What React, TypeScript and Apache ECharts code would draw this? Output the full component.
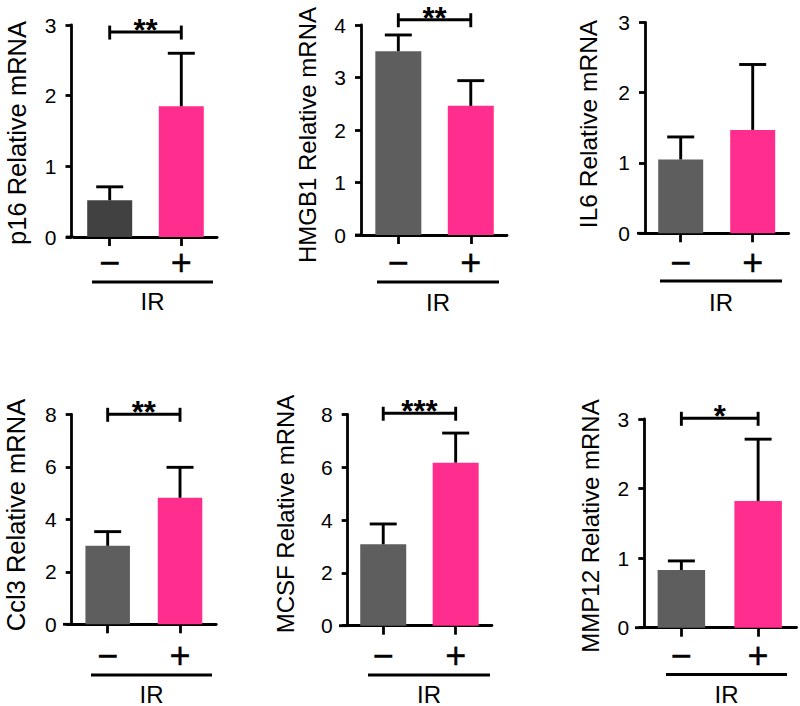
import React, { useEffect, useRef } from "react";
import * as echarts from "echarts";

// ---------- data ----------
const genes = ["p16", "HMGB1", "IL6", "Ccl3", "MCSF", "MMP12"];
const groups = ["−", "+"];
const groupLabel = "IR";
const ctrlMean = [0.52, 3.5, 1.05, 2.99, 3.08, 0.83];
const ctrlErr = [0.19, 0.31, 0.32, 0.54, 0.77, 0.13];
const irMean = [1.85, 2.46, 1.47, 4.82, 6.17, 1.82];
const irErr = [0.75, 0.48, 0.93, 1.16, 1.12, 0.89];
const yMax = [3, 4, 3, 8, 8, 3];
const yStep = [1, 1, 1, 2, 2, 1];
const stars = ["**", "**", "", "**", "***", "*"];
const bracketAt: (number | null)[] = [2.9, 4.1, null, 8.0, 8.04, 3.01];

// ---------- layout / style ----------
const FONT = "'Liberation Sans', Arial, Helvetica, sans-serif";
const PINK = "#ff2d8d";
const LW = 2.8;
const LABEL_SIZE = 36;

const panels = [
  { axisX: 71.5, left: 73.9, right: 217.1, xStart: 66, top: 25, bottom: 237, barW: 45, gray: "#414141", titleX: 17, titleY: 133, titleSize: 25.5, labelY: 262, irX0: 92, irX1: 213, irY: 282, irTextY: 301 },
  { axisX: 361, left: 362.1, right: 507, xStart: 355, top: 25, bottom: 235, barW: 46, gray: "#5e5e5e", titleX: 307, titleY: 135, titleSize: 24, labelY: 262, irX0: 377, irX1: 499, irY: 282, irTextY: 302 },
  { axisX: 645, left: 644.7, right: 788.7, xStart: 637, top: 22.3, bottom: 233.3, barW: 45, gray: "#5e5e5e", titleX: 588, titleY: 124, titleSize: 24.5, labelY: 262, irX0: 660, irX1: 782, irY: 281, irTextY: 302 },
  { axisX: 71.7, left: 71.5, right: 216.2, xStart: 63, top: 414.3, bottom: 624.3, barW: 44.5, gray: "#5e5e5e", titleX: 16, titleY: 515, titleSize: 25.5, labelY: 655.5, irX0: 91, irX1: 212, irY: 675, irTextY: 694 },
  { axisX: 347.7, left: 347, right: 491.9, xStart: 339, top: 414.3, bottom: 625.7, barW: 46, gray: "#5e5e5e", titleX: 285, titleY: 514, titleSize: 24, labelY: 655.5, irX0: 368, irX1: 490, irY: 675, irTextY: 694 },
  { axisX: 644.3, left: 643, right: 796.5, xStart: 635, top: 419, bottom: 627.7, barW: 47.5, gray: "#5e5e5e", titleX: 590, titleY: 526, titleSize: 24, labelY: 655.5, irX0: 666, irX1: 787, irY: 674.5, irTextY: 694 },
];

function buildOption() {
  const grid: any[] = [];
  const xAxis: any[] = [];
  const yAxis: any[] = [];
  const series: any[] = [];
  const graphic: any[] = [];
  const axisLineStyle = { color: "#000", width: LW };

  panels.forEach((p, i) => {
    grid.push({ left: p.left, top: p.top, width: p.right - p.left, height: p.bottom - p.top });
    xAxis.push({
      type: "category",
      gridIndex: i,
      data: groups,
      axisLine: { show: true, lineStyle: axisLineStyle },
      axisTick: { show: true, alignWithLabel: true, length: 9, lineStyle: axisLineStyle },
      axisLabel: {
        fontSize: LABEL_SIZE,
        color: "#000",
        fontFamily: FONT,
        textBorderColor: "#000",
        textBorderWidth: 0.35,
        margin: p.labelY - p.bottom - LABEL_SIZE / 2,
      },
      splitLine: { show: false },
    });
    yAxis.push({
      type: "value",
      gridIndex: i,
      min: 0,
      max: yMax[i],
      interval: yStep[i],
      offset: p.left - p.axisX,
      axisLine: { show: true, lineStyle: axisLineStyle },
      axisTick: { show: true, length: 6, lineStyle: axisLineStyle },
      axisLabel: { fontSize: 21, color: "#000", fontFamily: FONT, margin: 15 },
      splitLine: { show: false },
    });
    series.push({
      type: "bar",
      xAxisIndex: i,
      yAxisIndex: i,
      barWidth: p.barW,
      silent: true,
      data: [
        { value: ctrlMean[i], itemStyle: { color: p.gray } },
        { value: irMean[i], itemStyle: { color: PINK } },
      ],
    });
    series.push({
      type: "custom",
      xAxisIndex: i,
      yAxisIndex: i,
      silent: true,
      z: 3,
      encode: { x: 0, y: [1, 2] },
      data: [
        [0, ctrlMean[i], ctrlMean[i] + ctrlErr[i]],
        [1, irMean[i], irMean[i] + irErr[i]],
      ],
      renderItem: (params: any, api: any) => {
        const base = api.coord([api.value(0), api.value(1)]);
        const top = api.coord([api.value(0), api.value(2)]);
        const hw = 13.5;
        const st = { stroke: "#000", lineWidth: 2.9 };
        return {
          type: "group",
          children: [
            { type: "line", shape: { x1: base[0], y1: base[1], x2: top[0], y2: top[1] }, style: st },
            { type: "line", shape: { x1: top[0] - hw, y1: top[1], x2: top[0] + hw, y2: top[1] }, style: st },
          ],
        };
      },
    });
    if (stars[i] && bracketAt[i] != null) {
      const label = stars[i];
      series.push({
        type: "custom",
        xAxisIndex: i,
        yAxisIndex: i,
        silent: true,
        clip: false,
        z: 4,
        encode: { x: [0, 1], y: 2 },
        data: [[0, 1, bracketAt[i]]],
        renderItem: (params: any, api: any) => {
          const a = api.coord([api.value(0), api.value(2)]);
          const b = api.coord([api.value(1), api.value(2)]);
          const st = { stroke: "#000", lineWidth: 2.9 };
          return {
            type: "group",
            children: [
              { type: "line", shape: { x1: a[0], y1: a[1], x2: b[0], y2: b[1] }, style: st },
              { type: "line", shape: { x1: a[0], y1: a[1] - 6.5, x2: a[0], y2: a[1] + 7.5 }, style: st },
              { type: "line", shape: { x1: b[0], y1: b[1] - 6.5, x2: b[0], y2: b[1] + 7.5 }, style: st },
              {
                type: "text",
                x: (a[0] + b[0]) / 2,
                y: a[1] - 1.5,
                style: {
                  text: label,
                  fontSize: 31,
                  lineHeight: 16,
                  fontWeight: "bold",
                  fontFamily: FONT,
                  fill: "#000",
                  align: "center",
                  verticalAlign: "middle",
                },
              },
            ],
          };
        },
      });
    }

    // x-axis stub extending left of y axis
    graphic.push({
      type: "line",
      silent: true,
      shape: { x1: p.xStart, y1: p.bottom, x2: p.left, y2: p.bottom },
      style: { stroke: "#000", lineWidth: LW },
    });
    // group line + label
    graphic.push({
      type: "line",
      silent: true,
      shape: { x1: p.irX0, y1: p.irY, x2: p.irX1, y2: p.irY },
      style: { stroke: "#000", lineWidth: LW },
    });
    graphic.push({
      type: "text",
      silent: true,
      x: (p.irX0 + p.irX1) / 2,
      y: p.irTextY,
      style: {
        text: groupLabel,
        fontSize: 24,
        fontFamily: FONT,
        fill: "#000",
        align: "center",
        verticalAlign: "middle",
        textAlign: "center",
        textVerticalAlign: "middle",
      },
    });
    // y-axis title
    graphic.push({
      type: "text",
      silent: true,
      x: p.titleX,
      y: p.titleY,
      rotation: Math.PI / 2,
      style: {
        text: `${genes[i]} Relative mRNA`,
        fontSize: p.titleSize,
        fontFamily: FONT,
        fill: "#000",
        align: "center",
        verticalAlign: "middle",
        textAlign: "center",
        textVerticalAlign: "middle",
      },
    });
  });

  return {
    animation: false,
    backgroundColor: "#ffffff",
    grid,
    xAxis,
    yAxis,
    series,
    graphic,
  };
}

export default function App() {
  const ref = useRef<HTMLDivElement>(null);
  useEffect(() => {
    if (!ref.current) return;
    const chart = echarts.init(ref.current, undefined, { renderer: "svg" });
    chart.setOption(buildOption() as any);
    return () => chart.dispose();
  }, []);
  return (
    <div
      ref={ref}
      style={{ position: "fixed", left: 0, top: 0, width: 800, height: 706, background: "#fff" }}
    />
  );
}
